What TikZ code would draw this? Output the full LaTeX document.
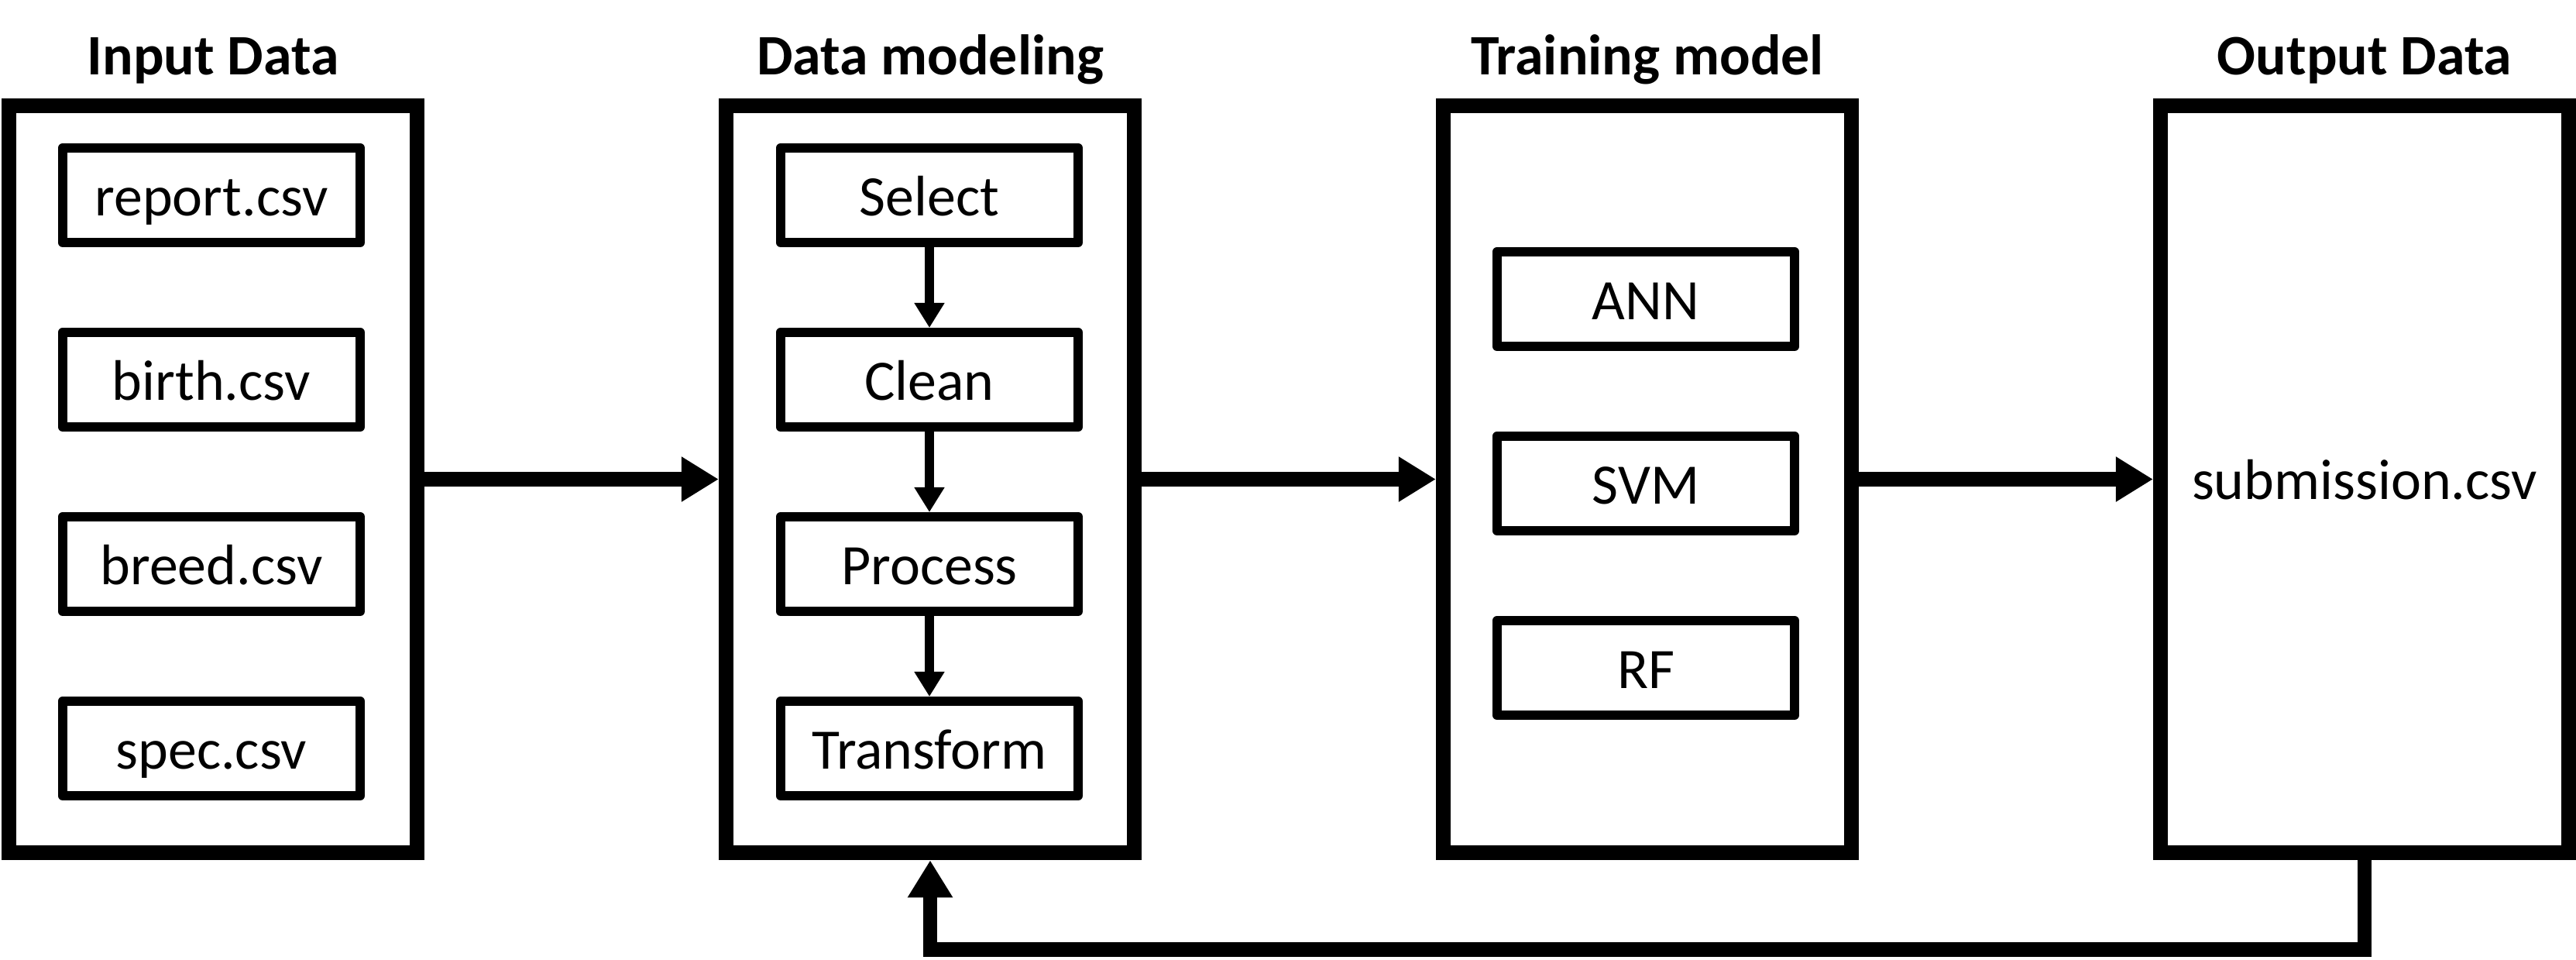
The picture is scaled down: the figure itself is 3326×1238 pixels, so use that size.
\documentclass[tikz,border=0pt]{standalone}
\usepackage{fontspec}
\setmainfont{Carlito}
\usetikzlibrary{arrows.meta}
\begin{document}
\begin{tikzpicture}[x=0.01cm,y=-0.01cm,
  panel/.style={draw,line width=0.19cm,minimum width=5.27cm,minimum height=9.64cm,inner sep=0pt,line join=miter},
  itembox/.style={draw,line width=0.12cm,minimum width=3.84cm,minimum height=1.22cm,inner sep=0pt,line join=round},
  lbl/.style={font=\fontsize{21}{25}\selectfont,text height=0.52cm,text depth=0pt},
  ttl/.style={anchor=base,font=\fontsize{21}{25}\selectfont\bfseries},
  bigarrow/.style={line width=0.185cm,line join=miter,-{Triangle[length=0.48cm,width=0.55cm]}},
  smallarrow/.style={line width=0.12cm,-{Triangle[length=0.32cm,width=0.37cm]}}]
\useasboundingbox (0,0) rectangle (3326,1238);

% panels
\node[panel] (in)  at (275,618.5) {};
\node[panel] (dm)  at (1201,618.5) {};
\node[panel] (tr)  at (2127,618.5) {};
\node[panel,lbl] (out) at (3053,618.5) {submission.csv};

% titles
\node[ttl] (tin)  at (275,96) {Input Data};
\node[ttl] (tdm)  at (1201,96) {Data modeling};
\node[ttl] (ttr)  at (2127,96) {Training model};
\node[ttl] (tout) at (3053,96) {Output Data};

% input files
\node[itembox,lbl] (report) at (273,252) {report.csv};
\node[itembox,lbl] (birth)  at (273,490) {birth.csv};
\node[itembox,lbl] (breed)  at (273,728) {breed.csv};
\node[itembox,lbl] (spec)   at (273,966) {spec.csv};

% data modeling steps
\node[itembox,lbl] (select)    at (1200,252) {Select};
\node[itembox,lbl] (clean)     at (1200,490) {Clean};
\node[itembox,lbl] (process)   at (1200,728) {Process};
\node[itembox,lbl] (transform) at (1200,966) {Transform};

% models
\node[itembox,lbl] (ann) at (2125,386) {ANN};
\node[itembox,lbl] (svm) at (2125,624) {SVM};
\node[itembox,lbl] (rf)  at (2125,862) {RF};

% inner arrows
\draw[smallarrow] (select) -- (clean);
\draw[smallarrow] (clean) -- (process);
\draw[smallarrow] (process) -- (transform);

% main arrows
\draw[bigarrow] (in.east) -- (dm.west);
\draw[bigarrow] (dm.east) -- (tr.west);
\draw[bigarrow] (tr.east) -- (out.west);

% feedback
\draw[bigarrow] (out.south) -- ++(0,115) -| (dm.south);
\end{tikzpicture}
\end{document}
